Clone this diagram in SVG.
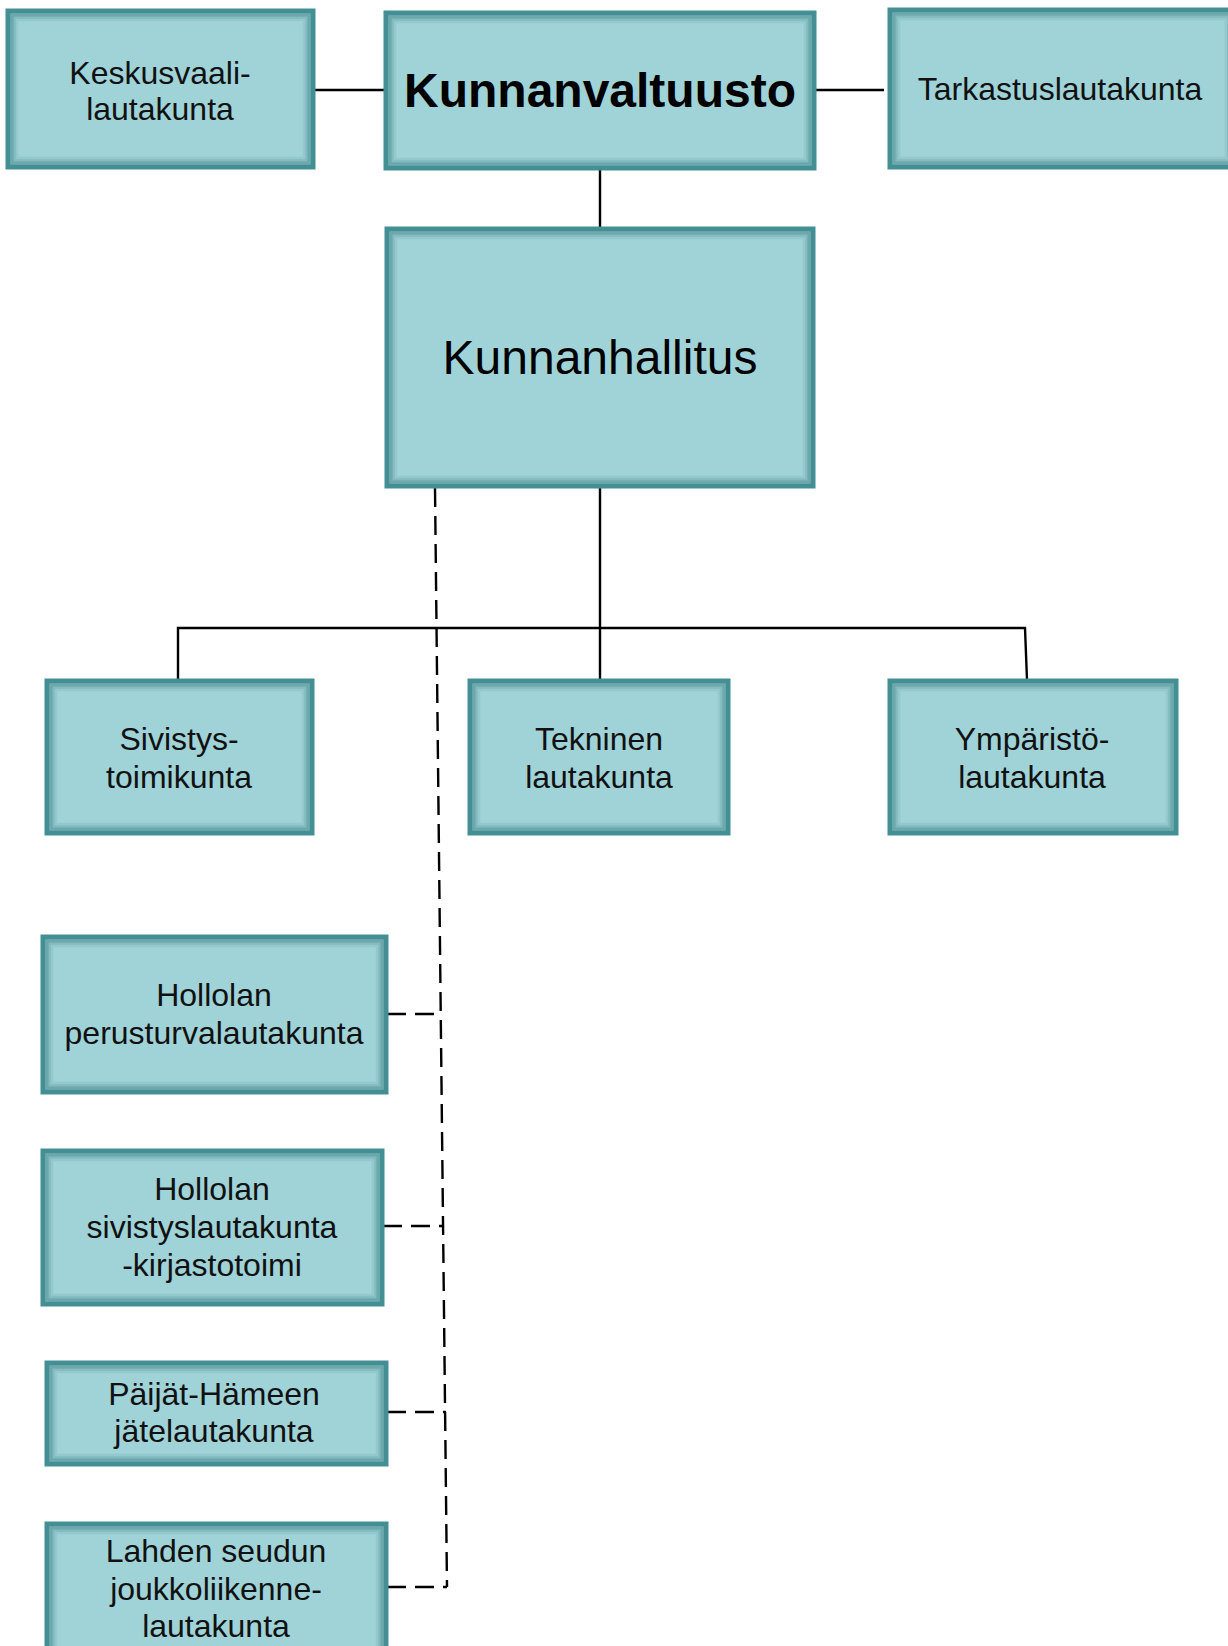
<svg xmlns="http://www.w3.org/2000/svg" width="1228" height="1646" viewBox="0 0 1228 1646">
<style>
.box{fill:#a0d3d8;}
.edge{fill:none;stroke:#438f93;stroke-width:5;}
.i1{fill:none;stroke:#3a7d82;stroke-width:3;stroke-opacity:0.5;}
.i2{fill:none;stroke:#3a7d82;stroke-width:2.5;stroke-opacity:0.28;}
.i3{fill:none;stroke:#3a7d82;stroke-width:2.5;stroke-opacity:0.12;}
.t{font-family:"Liberation Sans",Arial,sans-serif;font-size:32px;fill:#111;text-anchor:middle;}
.big{font-family:"Liberation Sans",Arial,sans-serif;font-size:48px;fill:#000;text-anchor:middle;}
.solid{stroke:#000;stroke-width:2.4;fill:none;}
.dash{stroke:#000;stroke-width:2.4;fill:none;stroke-dasharray:19 9;}
</style>
<rect width="1228" height="1646" fill="#fff"/>
<g id="connectors">
<line class="solid" x1="314" y1="90" x2="386" y2="90"/>
<line class="solid" x1="814" y1="90" x2="884" y2="90"/>
<line class="solid" x1="600" y1="168" x2="600" y2="229"/>
<line class="solid" x1="600" y1="487" x2="600" y2="680"/>
<polyline class="solid" points="178,680 178,628 1025,628 1027,680"/>
<line class="dash" x1="435" y1="488" x2="447" y2="1587"/>
<line class="dash" x1="387" y1="1014" x2="442" y2="1014"/>
<line class="dash" x1="383" y1="1226" x2="444" y2="1226"/>
<line class="dash" x1="387" y1="1412" x2="446" y2="1412"/>
<line class="dash" x1="387" y1="1587" x2="447" y2="1587"/>
</g>
<g id="keskusvaali">
<rect class="box" x="8" y="11" width="305" height="156"/>
<rect class="i1" x="12" y="15" width="297" height="148"/>
<rect class="i2" x="14.5" y="17.5" width="292" height="143"/>
<rect class="i3" x="17" y="20" width="287" height="138"/>
<rect class="edge" x="8" y="11" width="305" height="156"/>
<text class="t" x="160" y="84">Keskusvaali-</text>
<text class="t" x="160" y="120">lautakunta</text>
</g>
<g id="kunnanvaltuusto">
<rect class="box" x="386" y="13" width="428" height="155"/>
<rect class="i1" x="390" y="17" width="420" height="147"/>
<rect class="i2" x="392.5" y="19.5" width="415" height="142"/>
<rect class="i3" x="395" y="22" width="410" height="137"/>
<rect class="edge" x="386" y="13" width="428" height="155"/>
<text class="big" x="600" y="107" font-weight="bold">Kunnanvaltuusto</text>
</g>
<g id="tarkastuslautakunta">
<rect class="box" x="890" y="10" width="345" height="157"/>
<rect class="i1" x="894" y="14" width="337" height="149"/>
<rect class="i2" x="896.5" y="16.5" width="332" height="144"/>
<rect class="i3" x="899" y="19" width="327" height="139"/>
<rect class="edge" x="890" y="10" width="345" height="157"/>
<text class="t" x="1060" y="100">Tarkastuslautakunta</text>
</g>
<g id="kunnanhallitus">
<rect class="box" x="387" y="229" width="426" height="257"/>
<rect class="i1" x="391" y="233" width="418" height="249"/>
<rect class="i2" x="393.5" y="235.5" width="413" height="244"/>
<rect class="i3" x="396" y="238" width="408" height="239"/>
<rect class="edge" x="387" y="229" width="426" height="257"/>
<text class="big" x="600" y="374" font-size="46">Kunnanhallitus</text>
</g>
<g id="sivistystoimikunta">
<rect class="box" x="47" y="681" width="265" height="152"/>
<rect class="i1" x="51" y="685" width="257" height="144"/>
<rect class="i2" x="53.5" y="687.5" width="252" height="139"/>
<rect class="i3" x="56" y="690" width="247" height="134"/>
<rect class="edge" x="47" y="681" width="265" height="152"/>
<text class="t" x="179" y="750">Sivistys-</text>
<text class="t" x="179" y="788">toimikunta</text>
</g>
<g id="tekninen">
<rect class="box" x="470" y="681" width="258" height="152"/>
<rect class="i1" x="474" y="685" width="250" height="144"/>
<rect class="i2" x="476.5" y="687.5" width="245" height="139"/>
<rect class="i3" x="479" y="690" width="240" height="134"/>
<rect class="edge" x="470" y="681" width="258" height="152"/>
<text class="t" x="599" y="750">Tekninen</text>
<text class="t" x="599" y="788">lautakunta</text>
</g>
<g id="ymparisto">
<rect class="box" x="890" y="681" width="286" height="152"/>
<rect class="i1" x="894" y="685" width="278" height="144"/>
<rect class="i2" x="896.5" y="687.5" width="273" height="139"/>
<rect class="i3" x="899" y="690" width="268" height="134"/>
<rect class="edge" x="890" y="681" width="286" height="152"/>
<text class="t" x="1032" y="750">Ympäristö-</text>
<text class="t" x="1032" y="788">lautakunta</text>
</g>
<g id="perusturva">
<rect class="box" x="43" y="937" width="343" height="155"/>
<rect class="i1" x="47" y="941" width="335" height="147"/>
<rect class="i2" x="49.5" y="943.5" width="330" height="142"/>
<rect class="i3" x="52" y="946" width="325" height="137"/>
<rect class="edge" x="43" y="937" width="343" height="155"/>
<text class="t" x="214" y="1006">Hollolan</text>
<text class="t" x="214" y="1044">perusturvalautakunta</text>
</g>
<g id="sivistyslautakunta">
<rect class="box" x="43" y="1151" width="339" height="153"/>
<rect class="i1" x="47" y="1155" width="331" height="145"/>
<rect class="i2" x="49.5" y="1157.5" width="326" height="140"/>
<rect class="i3" x="52" y="1160" width="321" height="135"/>
<rect class="edge" x="43" y="1151" width="339" height="153"/>
<text class="t" x="212" y="1200">Hollolan</text>
<text class="t" x="212" y="1238">sivistyslautakunta</text>
<text class="t" x="212" y="1276">-kirjastotoimi</text>
</g>
<g id="jatelautakunta">
<rect class="box" x="47" y="1363" width="339" height="101"/>
<rect class="i1" x="51" y="1367" width="331" height="93"/>
<rect class="i2" x="53.5" y="1369.5" width="326" height="88"/>
<rect class="i3" x="56" y="1372" width="321" height="83"/>
<rect class="edge" x="47" y="1363" width="339" height="101"/>
<text class="t" x="214" y="1405">Päijät-Hämeen</text>
<text class="t" x="214" y="1442">jätelautakunta</text>
</g>
<g id="joukkoliikenne">
<rect class="box" x="47" y="1524" width="339" height="140"/>
<rect class="i1" x="51" y="1528" width="331" height="132"/>
<rect class="i2" x="53.5" y="1530.5" width="326" height="127"/>
<rect class="i3" x="56" y="1533" width="321" height="122"/>
<rect class="edge" x="47" y="1524" width="339" height="140"/>
<text class="t" x="216" y="1562">Lahden seudun</text>
<text class="t" x="216" y="1600">joukkoliikenne-</text>
<text class="t" x="216" y="1637">lautakunta</text>
</g>
</svg>
